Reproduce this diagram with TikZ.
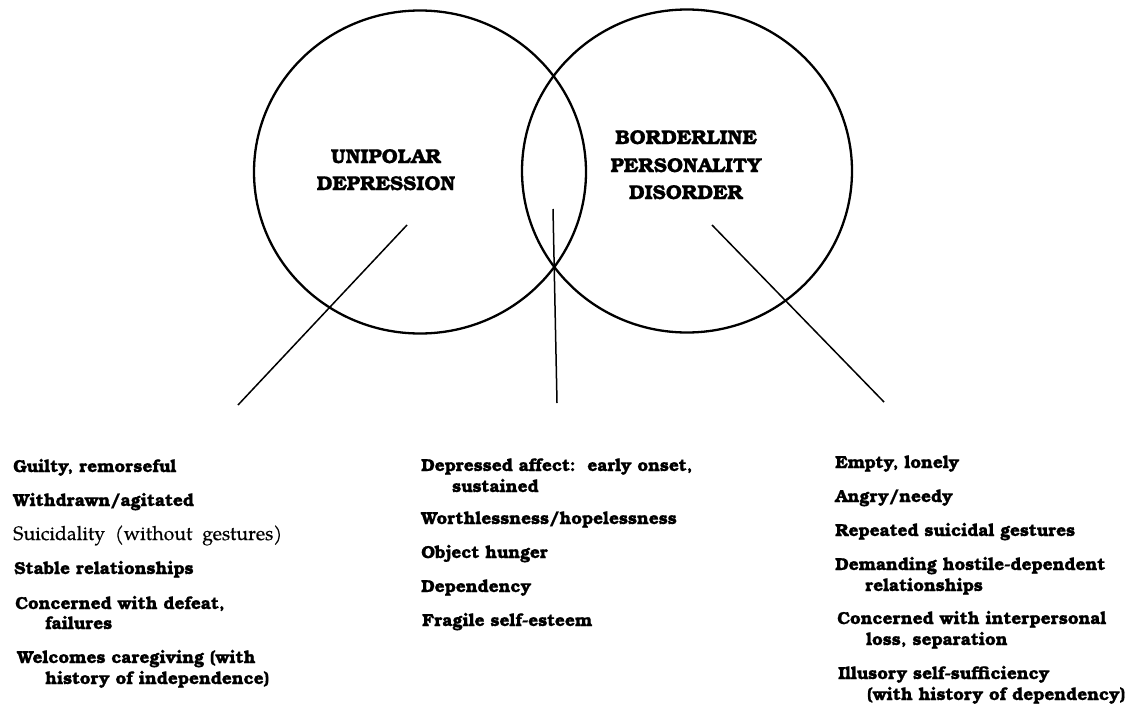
\documentclass[tikz,border=0pt]{standalone}
\usepackage{fontspec}
\setmainfont{TeX Gyre Bonum}[BoldFeatures={FakeBold=0.8}]
\newfontfamily\pagfont{TeX Gyre Pagella}[FakeBold=0.4]
\usetikzlibrary{shapes.geometric}
\begin{document}
\begin{tikzpicture}[x=1pt,y=-1pt,
  circ/.style={draw, ellipse, line width=2.3pt, inner sep=0pt, outer sep=0pt},
  link/.style={line width=1.5pt},
  head/.style={anchor=base, inner sep=0pt, font=\bfseries\fontsize{20}{23}\selectfont},
  item/.style={anchor=base west, inner sep=0pt, font=\bfseries\fontsize{17.3}{20}\selectfont},
  plain/.style={anchor=base west, inner sep=0pt, font=\pagfont\fontsize{19.5}{22}\selectfont}]
\useasboundingbox (0,0) rectangle (1137,704);
% circles
\node[circ, minimum width=332pt, minimum height=323pt] (ud) at (420,172) {};
\node[circ, minimum width=330pt, minimum height=323pt] (bpd) at (687,171) {};
% headings
\node[head] (h1a) at (386,163) {UNIPOLAR};
\node[head] (h1b) at (386,190) {DEPRESSION};
\node[head] (h2a) at (686,144) {BORDERLINE};
\node[head] (h2b) at (686,172) {PERSONALITY};
\node[head] (h2c) at (686,199) {DISORDER};
% connectors
\coordinate (ls) at (407,225); \coordinate (le) at (238,405);
\coordinate (ms) at (553,209); \coordinate (me) at (557,403);
\coordinate (rs) at (712,225); \coordinate (re) at (884,402);
\draw[link] (ls) -- (le);
\draw[link] (ms) -- (me);
\draw[link] (rs) -- (re);
% left list
\node[item] (l1) at (13,472) {Guilty, remorseful};
\node[item] (l2) at (13,506) {Withdrawn/agitated};
\node[plain] (l3) at (13,540) {Suicidality\ \ (without\ \ gestures)};
\node[item] (l4) at (14,574) {Stable relationships};
\node[item] (l5a) at (15,609) {Concerned with defeat,};
\node[item] (l5b) at (45,629) {failures};
\node[item] (l6a) at (17,663) {Welcomes caregiving (with};
\node[item] (l6b) at (45,684) {history of independence)};
% middle list
\node[item] (m1a) at (421,471) {Depressed affect:\ \ early onset,};
\node[item] (m1b) at (452,492) {sustained};
\node[item] (m2) at (421,524) {Worthlessness/hopelessness};
\node[item] (m3) at (421,558) {Object hunger};
\node[item] (m4) at (421,592) {Dependency};
\node[item] (m5) at (422,626) {Fragile self-esteem};
% right list
\node[item] (r1) at (835,468) {Empty, lonely};
\node[item] (r2) at (835,502) {Angry/needy};
\node[item] (r3) at (835,536) {Repeated suicidal gestures};
\node[item] (r4a) at (835,570) {Demanding hostile-dependent};
\node[item] (r4b) at (865,591) {relationships};
\node[item] (r5a) at (837,624) {Concerned with interpersonal};
\node[item] (r5b) at (866,645) {loss, separation};
\node[item] (r6a) at (838,679) {Illusory self-sufficiency};
\node[item] (r6b) at (867,700) {(with history of dependency)};
\end{tikzpicture}
\end{document}
